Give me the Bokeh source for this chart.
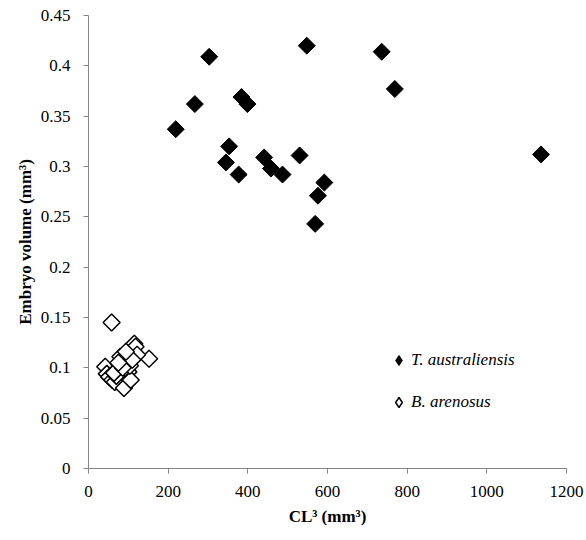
import numpy as np
from bokeh.plotting import figure
from bokeh.models import FixedTicker, Legend, LegendItem, Title
from bokeh.embed import file_html
from bokeh.resources import INLINE

# T. australiensis (filled diamonds)
ta_x = [219, 267, 303, 384, 399, 353, 345, 377, 441, 458, 487, 530, 548, 592, 576, 569, 736, 769, 1136]
ta_y = [0.337, 0.362, 0.409, 0.369, 0.362, 0.320, 0.304, 0.292, 0.309, 0.298, 0.292, 0.311, 0.420, 0.284, 0.271, 0.243, 0.414, 0.377, 0.312]

# B. arenosus (open diamonds)
ba_x = [58, 152, 42, 46, 52, 60, 66, 72, 78, 84, 89, 92, 96, 100, 106, 108, 112, 115, 118, 122, 90, 98, 70, 80, 104, 64, 86, 110, 75, 94]
ba_y = [0.145, 0.109, 0.101, 0.094, 0.091, 0.088, 0.086, 0.098, 0.103, 0.107, 0.080, 0.112, 0.106, 0.096, 0.088, 0.115, 0.119, 0.124, 0.121, 0.113, 0.099, 0.110, 0.092, 0.111, 0.102, 0.095, 0.100, 0.108, 0.105, 0.116]

x_ticks = [0, 200, 400, 600, 800, 1000, 1200]
y_ticks = [0, 0.05, 0.1, 0.15, 0.2, 0.25, 0.3, 0.35, 0.4, 0.45]
y_tick_labels = ["0", "0.05", "0.1", "0.15", "0.2", "0.25", "0.3", "0.35", "0.4", "0.45"]

FONT = "Liberation Serif"
AX = "#868686"

p = figure(width=586, height=540, x_range=(0, 1200), y_range=(0, 0.45),
           output_backend="svg", toolbar_location=None,
           min_border_left=88, min_border_right=20, min_border_top=15, min_border_bottom=72)
p.outline_line_color = None
p.xgrid.grid_line_color = None
p.ygrid.grid_line_color = None

p.xaxis.ticker = FixedTicker(ticks=x_ticks)
p.yaxis.ticker = FixedTicker(ticks=y_ticks)
p.yaxis.major_label_overrides = {t: l for t, l in zip(y_ticks, y_tick_labels)}
p.xaxis.major_label_overrides = {t: str(t) for t in x_ticks}

for ax in (p.xaxis[0], p.yaxis[0]):
    ax.axis_line_color = AX
    ax.major_tick_line_color = AX
    ax.major_tick_out = 5
    ax.major_tick_in = 0
    ax.minor_tick_line_color = None
    ax.major_label_text_font = FONT
    ax.major_label_text_font_size = "17px"
    ax.major_label_text_color = "black"

p.xaxis.major_label_standoff = 12
p.yaxis.major_label_standoff = 13

xt = Title(text="CL³ (mm³)", align="center", standoff=10,
           text_font=FONT, text_font_style="bold", text_font_size="17px", text_color="black")
p.add_layout(xt, "below")
yt = Title(text="Embryo volume (mm³)", align="center", standoff=6,
           text_font=FONT, text_font_style="bold", text_font_size="17px", text_color="black")
p.add_layout(yt, "left")

r1 = p.scatter(ta_x, ta_y, marker="square", size=12, angle=np.pi / 4,
               fill_color="black", line_color="black")
r2 = p.scatter(ba_x, ba_y, marker="square", size=12, angle=np.pi / 4,
               fill_color="white", line_color="black", line_width=1.5)

# legend-only glyphs (diamond shape, not drawn in the plot area)
l1 = p.scatter([np.nan], [np.nan], marker="diamond", size=13, fill_color="black", line_color="black")
l2 = p.scatter([np.nan], [np.nan], marker="diamond", size=13, fill_color="white", line_color="black", line_width=1.5)

legend = Legend(items=[LegendItem(label="T. australiensis", renderers=[l1]),
                       LegendItem(label="B. arenosus", renderers=[l2])],
                location=(298, 53), orientation="vertical")
legend.label_text_font = FONT
legend.label_text_font_style = "italic"
legend.label_text_font_size = "17px"
legend.label_text_color = "black"
legend.border_line_color = None
legend.background_fill_alpha = 0
legend.glyph_width = 25
legend.glyph_height = 26
legend.label_standoff = 0
legend.spacing = 16
legend.padding = 0
legend.margin = 0
p.add_layout(legend)

open("out.html", "w").write(file_html(p, INLINE))
